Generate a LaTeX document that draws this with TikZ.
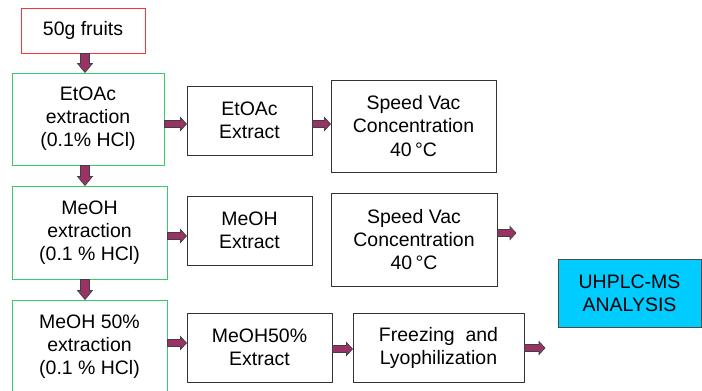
\documentclass[tikz,border=0pt]{standalone}
\usepackage{fontspec}
\setmainfont{Liberation Sans}
\usetikzlibrary{calc}
\definecolor{arrc}{HTML}{993366}
\definecolor{redb}{HTML}{FF3333}
\definecolor{greenb}{HTML}{33CC66}
\definecolor{cyanf}{HTML}{00CCFF}
\tikzset{
  box/.style={draw=black!80, line width=0.75pt, rectangle, align=center, inner sep=0pt,
    font=\fontsize{14.6}{17.3}\selectfont},
  redbox/.style={box, draw=redb},
  greenbox/.style={box, draw=greenb},
  cyanbox/.style={box, fill=cyanf, draw=black!70},
  blockarr/.style={fill=arrc, draw=black!75, line width=0.5pt, line join=miter},
}
\newcommand\harr[2]{\filldraw[blockarr] let \p1=(#1), \p2=(#2) in
  ({\x1},{\y1+2.6pt}) -- ({\x2-4.5pt},{\y1+2.6pt}) -- ({\x2-4.5pt},{\y1+4.9pt}) -- ({\x2},{\y1})
  -- ({\x2-4.5pt},{\y1-4.9pt}) -- ({\x2-4.5pt},{\y1-2.6pt}) -- ({\x1},{\y1-2.6pt}) -- cycle;}
\newcommand\varr[2]{\filldraw[blockarr] let \p1=(#1), \p2=(#2) in
  ({\x1-3.4pt},{\y1}) -- ({\x1-3.4pt},{\y2+6.75pt}) -- ({\x1-5.6pt},{\y2+6.75pt}) -- ({\x1},{\y2})
  -- ({\x1+5.6pt},{\y2+6.75pt}) -- ({\x1+3.4pt},{\y2+6.75pt}) -- ({\x1+3.4pt},{\y1}) -- cycle;}
\begin{document}
\begin{tikzpicture}[x=0.75pt, y=-0.75pt]
\useasboundingbox (0,0) rectangle (702,390);
\clip (0,0) rectangle (702,390);
\fill[white] (0,0) rectangle (702,390);

\node[redbox, minimum width=124*0.75pt, minimum height=45*0.75pt] (fruit) at (83,30.5) {50g fruits};
\node[greenbox, minimum width=152*0.75pt, minimum height=92*0.75pt] (ext1) at (88,119) {EtOAc\\extraction\\(0.1\% HCl)};
\node[box, minimum width=125*0.75pt, minimum height=69*0.75pt] (ex1) at (249.5,120.5) {EtOAc\\Extract};
\node[box, minimum width=165*0.75pt, minimum height=92*0.75pt] (sv1) at (413.5,126) {Speed Vac\\Concentration\\40\,°C};

\node[greenbox, minimum width=155*0.75pt, minimum height=93*0.75pt] (ext2) at (89.5,232.5) {MeOH\\extraction\\(0.1 \% HCl)};
\node[box, minimum width=125*0.75pt, minimum height=69*0.75pt] (ex2) at (249.5,230.5) {MeOH\\Extract};
\node[box, minimum width=166*0.75pt, minimum height=93*0.75pt] (sv2) at (414,239.5) {Speed Vac\\Concentration\\40\,°C};

\node[greenbox, minimum width=155*0.75pt, minimum height=94*0.75pt] (ext3) at (89.5,347) {MeOH 50\%\\extraction\\(0.1 \% HCl)};
\node[box, minimum width=145*0.75pt, minimum height=69*0.75pt] (ex3) at (259.5,347.5) {MeOH50\%\\Extract};
\node[box, minimum width=171*0.75pt, minimum height=69*0.75pt] (frz) at (438.5,347.5) {Freezing\ \ and\\Lyophilization};

\node[cyanbox, minimum width=143*0.75pt, minimum height=68*0.75pt] (uh) at (629.5,293) {UHPLC-MS\\ANALYSIS};

\coordinate (col) at (85,0);
\coordinate (r1) at (0,124);
\coordinate (r2) at (0,236);
\coordinate (r2b) at (0,233);
\coordinate (r3) at (0,343);
\coordinate (r3b) at (0,349);
\coordinate (r3c) at (0,348);
\coordinate (e2) at (516,233);
\coordinate (e3) at (545,348);

\varr{col |- fruit.south}{col |- ext1.north}
\varr{col |- ext1.south}{col |- ext2.north}
\varr{col |- ext2.south}{col |- ext3.north}

\harr{ext1.east |- r1}{ex1.west |- r1}
\harr{ex1.east |- r1}{sv1.west |- r1}
\harr{ext2.east |- r2}{ex2.west |- r2}
\harr{sv2.east |- r2b}{e2}
\harr{ext3.east |- r3}{ex3.west |- r3}
\harr{ex3.east |- r3b}{frz.west |- r3b}
\harr{frz.east |- r3c}{e3}
\end{tikzpicture}
\end{document}
